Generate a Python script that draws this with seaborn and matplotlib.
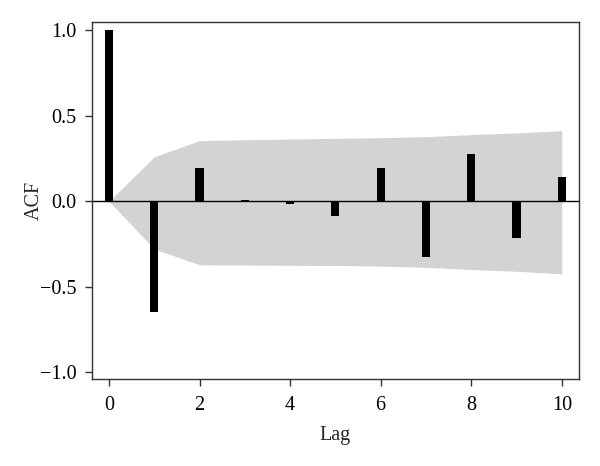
import numpy as np
import pandas as pd
import seaborn as sns
import matplotlib
matplotlib.use("Agg")
import matplotlib.pyplot as plt

# Values
lags = [0, 1, 2, 3, 4, 5, 6, 7, 8, 9, 10]
acf_values = [1.0, -0.65, 0.197, 0.005, -0.018, -0.086, 0.194, -0.325, 0.274, -0.217, 0.143]
band_upper = [0.0, 0.26, 0.355, 0.36, 0.364, 0.368, 0.372, 0.378, 0.39, 0.40, 0.413]
band_lower = [0.0, -0.28, -0.372, -0.374, -0.375, -0.376, -0.38, -0.387, -0.40, -0.41, -0.425]
x_ticks = [0, 2, 4, 6, 8, 10]
y_ticks = [-1.0, -0.5, 0.0, 0.5, 1.0]

acf_data = pd.DataFrame({"lag": lags, "acf": acf_values})

sns.set_style("ticks")
plt.rcParams["font.family"] = ["Liberation Serif", "DejaVu Serif"]

fig = plt.figure(figsize=(6.0, 4.66), dpi=100)
ax = fig.add_axes([0.153, 0.187, 0.812, 0.766])

# Confidence band
ax.fill_between(lags, band_lower, band_upper, color="#d3d3d3", linewidth=0, zorder=1)

# ACF bars
sns.barplot(data=acf_data, x="lag", y="acf", native_scale=True, width=0.18,
            color="black", saturation=1, linewidth=0, edgecolor="black",
            ax=ax, zorder=3)

ax.axhline(0, color="black", linewidth=1.0, zorder=2)

ax.set_xlim(-0.38, 10.38)
ax.set_ylim(-1.04, 1.05)
ax.set_xticks(x_ticks)
ax.set_yticks(y_ticks)
ax.set_xticklabels([str(t) for t in x_ticks])
ax.set_yticklabels([f"{t:.1f}".replace("-", "\u2212") for t in y_ticks])

for side in ["top", "right", "bottom", "left"]:
    ax.spines[side].set_visible(True)
    ax.spines[side].set_color("#333333")
    ax.spines[side].set_linewidth(1.0)
ax.tick_params(direction="out", length=5, width=1, color="#333333",
               labelsize=14.5, labelcolor="black")
ax.tick_params(axis="y", pad=6)
ax.tick_params(axis="x", pad=7)

ax.set_xlabel("Lag", fontsize=14.5, labelpad=8)
ax.set_ylabel("ACF", fontsize=14.5, labelpad=-3)

fig.savefig("out.png", dpi=100)
